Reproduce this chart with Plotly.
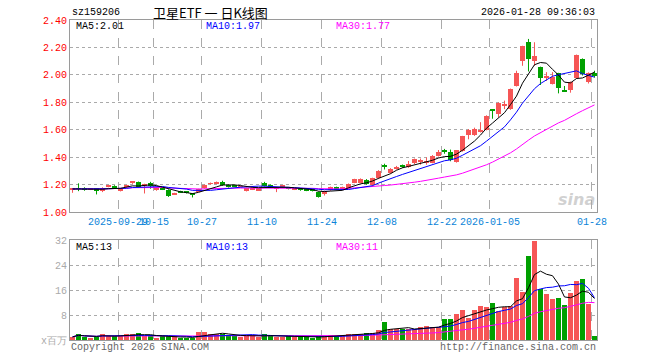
import pandas as pd
import plotly.graph_objects as go

# ---------------- data ----------------
dates = ["09-17","09-18","09-19","09-22","09-23","09-24","09-25","09-26","09-29","09-30",
         "10-09","10-10","10-13","10-14","10-15","10-16","10-17","10-20","10-21","10-22",
         "10-23","10-24","10-27","10-28","10-29","10-30","10-31","11-03","11-04","11-05",
         "11-06","11-07","11-10","11-11","11-12","11-13","11-14","11-17","11-18","11-19",
         "11-20","11-21","11-24","11-25","11-26","11-27","11-28","12-01","12-02","12-03",
         "12-04","12-05","12-08","12-09","12-10","12-11","12-12","12-15","12-16","12-17",
         "12-18","12-19","12-22","12-23","12-24","12-25","12-26","12-29","12-30","12-31",
         "01-05","01-06","01-07","01-08","01-09","01-12","01-13","01-14","01-15","01-16",
         "01-19","01-20","01-21","01-22","01-23","01-26","01-27","01-28"]

open_ = [1.162,1.172,1.170,1.165,1.172,1.152,1.185,1.190,1.158,1.180,
         1.212,1.220,1.186,1.215,1.162,1.170,1.160,1.130,1.150,1.145,
         1.133,1.147,1.172,1.205,1.210,1.222,1.198,1.190,1.183,1.156,
         1.165,1.160,1.212,1.196,1.168,1.185,1.175,1.163,1.166,1.165,
         1.162,1.148,1.130,1.160,1.180,1.165,1.172,1.213,1.215,1.232,
         1.196,1.245,1.335,1.288,1.312,1.342,1.326,1.356,1.368,1.362,
         1.360,1.410,1.455,1.435,1.368,1.442,1.560,1.565,1.589,1.597,
         1.745,1.716,1.777,1.750,1.920,2.103,2.238,2.100,2.054,1.980,
         1.937,2.010,1.885,1.887,1.975,2.115,1.950,2.010]
high = [1.172,1.209,1.180,1.175,1.175,1.180,1.195,1.195,1.175,1.198,
        1.225,1.222,1.206,1.220,1.180,1.175,1.165,1.140,1.155,1.150,
        1.138,1.170,1.200,1.215,1.222,1.228,1.200,1.195,1.190,1.178,
        1.180,1.175,1.220,1.200,1.178,1.195,1.180,1.172,1.170,1.168,
        1.168,1.150,1.155,1.185,1.185,1.185,1.208,1.242,1.245,1.240,
        1.250,1.305,1.352,1.320,1.336,1.346,1.372,1.390,1.390,1.398,
        1.415,1.452,1.460,1.455,1.452,1.555,1.605,1.615,1.655,1.705,
        1.750,1.800,1.812,1.900,2.030,2.212,2.262,2.238,2.060,2.020,
        2.020,2.015,1.919,1.952,2.148,2.120,2.018,2.030]
low = [1.140,1.152,1.155,1.160,1.128,1.145,1.180,1.175,1.150,1.175,
       1.205,1.180,1.135,1.170,1.155,1.160,1.110,1.130,1.140,1.135,
       1.106,1.145,1.170,1.200,1.205,1.190,1.178,1.180,1.180,1.150,
       1.160,1.155,1.185,1.175,1.145,1.180,1.165,1.160,1.155,1.152,
       1.150,1.105,1.120,1.155,1.160,1.160,1.170,1.210,1.210,1.200,
       1.190,1.240,1.310,1.280,1.310,1.322,1.322,1.350,1.345,1.345,
       1.355,1.405,1.425,1.370,1.360,1.440,1.530,1.555,1.580,1.595,
       1.680,1.690,1.750,1.745,1.915,2.066,2.025,2.066,1.926,1.956,
       1.930,1.865,1.875,1.870,1.970,1.995,1.937,1.980]
close = [1.168,1.168,1.165,1.170,1.150,1.176,1.190,1.182,1.165,1.196,
         1.220,1.185,1.204,1.186,1.168,1.165,1.120,1.137,1.145,1.140,
         1.128,1.167,1.196,1.210,1.215,1.196,1.182,1.185,1.186,1.175,
         1.170,1.172,1.190,1.180,1.172,1.190,1.170,1.167,1.162,1.160,
         1.158,1.112,1.152,1.180,1.166,1.180,1.204,1.238,1.238,1.205,
         1.245,1.300,1.330,1.316,1.331,1.334,1.351,1.385,1.372,1.368,
         1.410,1.434,1.435,1.382,1.449,1.551,1.596,1.608,1.600,1.700,
         1.738,1.797,1.785,1.895,2.010,2.209,2.115,2.140,1.976,1.986,
         1.985,1.907,1.880,1.949,2.145,2.005,2.010,1.990]
volume = [1.0,2.0,1.0,0.8,1.0,2.0,1.2,1.2,1.2,2.0,
          2.0,2.1,1.2,1.2,0.6,1.2,1.2,1.2,0.6,0.6,
          0.6,2.7,2.7,1.8,1.8,1.8,1.6,1.2,1.0,1.4,
          1.3,1.1,1.8,1.3,1.0,1.1,1.2,0.9,1.0,0.9,
          0.8,1.3,1.2,1.6,1.3,1.6,2.0,2.0,1.8,2.3,
          2.3,3.2,5.8,3.5,3.5,3.5,3.5,3.5,4.2,4.5,
          4.2,4.2,6.8,6.8,8.4,9.7,7.2,9.7,10.9,10.5,
          11.8,9.4,10.6,10.9,19.8,15.4,26.9,31.7,16.4,14.8,
          13.1,13.4,11.2,15.1,19.0,19.5,11.5,1.3]

tick_dates = ["09-29","10-15","10-27","11-10","11-24","12-08","12-22","01-05","01-28"]
tick_labels = ["2025-09-29","10-15","10-27","11-10","11-24","12-08","12-22","2026-01-05","01-28"]
price_ticks = [1.00,1.20,1.40,1.60,1.80,2.00,2.20,2.40]
vol_ticks = [0,8,16,24,32]
vol_tick_text = ["x百万","8","16","24","32"]

# ---------------- styling ----------------
RED = "#f65656"
GREEN = "#00a000"
GRID = "#aaaaaa"
BORDER = "#9a9a9a"
MONO = "Liberation Mono, DejaVu Sans Mono, monospace"
CJK = "Noto Sans CJK SC, sans-serif"

n = len(close)
idx = list(range(n))
up = [c >= o for o, c in zip(open_, close)]
colors = [RED if u else GREEN for u in up]
body_base = [min(o, c) for o, c in zip(open_, close)]
body_h = [max(abs(c - o), 0.006) for o, c in zip(open_, close)]

cs = pd.Series(close)
ma5 = cs.rolling(5, min_periods=1).mean()
ma10 = cs.rolling(10, min_periods=1).mean()
ma30 = cs.rolling(30, min_periods=1).mean()
vs = pd.Series(volume)
vma5 = vs.rolling(5, min_periods=1).mean()
vma10 = vs.rolling(10, min_periods=1).mean()
vma30 = vs.rolling(30, min_periods=1).mean()

fig = go.Figure()

# wicks
for col, flag in ((RED, True), (GREEN, False)):
    wx, wy = [], []
    for i in idx:
        if up[i] == flag:
            wx += [i, i, None]
            wy += [low[i], high[i], None]
    fig.add_trace(go.Scatter(x=wx, y=wy, mode="lines", line=dict(color=col, width=1),
                             hoverinfo="skip", showlegend=False, xaxis="x", yaxis="y"))

# bodies
fig.add_trace(go.Bar(x=idx, y=body_h, base=body_base, width=0.83,
                     marker=dict(color=colors, line=dict(width=0)),
                     showlegend=False, xaxis="x", yaxis="y"))

# price MAs
for s, col in ((ma30, "#ff00ff"), (ma10, "#0000ff"), (ma5, "#000000")):
    fig.add_trace(go.Scatter(x=idx, y=s, mode="lines", line=dict(color=col, width=1),
                             showlegend=False, xaxis="x", yaxis="y"))

# volume
fig.add_trace(go.Bar(x=idx, y=volume, width=0.83,
                     marker=dict(color=colors, line=dict(width=0)),
                     showlegend=False, xaxis="x2", yaxis="y2"))
for s, col in ((vma30, "#ff00ff"), (vma10, "#0000ff"), (vma5, "#000000")):
    fig.add_trace(go.Scatter(x=idx, y=s, mode="lines", line=dict(color=col, width=1),
                             showlegend=False, xaxis="x2", yaxis="y2"))

tickpos = [dates.index(d) - 0.42 for d in tick_dates]
xr = [-0.42, n - 1 + 0.42]

common_x = dict(range=xr, showgrid=True, gridcolor=GRID, griddash="dash", gridwidth=1,
                showline=True, mirror=True, linecolor=BORDER, linewidth=1,
                tickvals=tickpos, ticks="", zeroline=False, fixedrange=True)

fig.update_layout(
    width=660, height=360,
    margin=dict(l=70, r=63, t=20, b=20),
    paper_bgcolor="white", plot_bgcolor="white",
    barmode="overlay", bargap=0,
    xaxis=dict(common_x, domain=[0, 1], anchor="y", ticktext=tick_labels, tickangle=0,
               tickfont=dict(family=MONO, size=10, color="#0b84d8")),
    yaxis=dict(domain=[0.4, 1], range=[1.0, 2.4], tickvals=price_ticks, tickformat=".2f",
               tickfont=dict(family=MONO, size=10, color="#ff0000"),
               showgrid=True, gridcolor=GRID, griddash="dot", zeroline=False,
               showline=True, mirror=True, linecolor=BORDER, ticks=""),
    xaxis2=dict(common_x, domain=[0, 1], anchor="y2", showticklabels=False),
    yaxis2=dict(domain=[0, 0.3125], range=[0, 32], tickvals=vol_ticks, ticktext=vol_tick_text,
                tickfont=dict(family=MONO, size=10, color="#aaaaaa"),
                showgrid=True, gridcolor=GRID, griddash="dot", zeroline=False,
                showline=True, mirror=True, linecolor=BORDER, ticks=""),
    showlegend=False,
)

# pixel -> paper helpers
def px(x):
    return (x - 70) / 527.0

def py(y):
    return (340 - y) / 320.0

def note(text, x, y, color="#000", xanchor="left", size=10, family=MONO, **kw):
    fig.add_annotation(text=text, x=px(x), y=py(y), xref="paper", yref="paper",
                       xanchor=xanchor, yanchor="middle", showarrow=False,
                       font=dict(family=family, size=size, color=color), **kw)

note("sz159206", 70, 13)
note("卫星ETF 一 日K线图", 210, 12, xanchor="center", size=13, family=CJK)
note("2026-01-28 09:36:03", 597, 13, xanchor="right")
note("MA5:2.01", 74, 26)
note("MA10:1.97", 204, 26, color="#0000ff")
note("MA30:1.77", 334, 26, color="#ff00ff")
note("MA5:13", 74, 247)
note("MA10:13", 204, 247, color="#0000ff")
note("MA30:11", 334, 247, color="#ff00ff")
note("Copyright 2026 SINA.COM", 69, 347, color="#666666")
note("http://finance.sina.com.cn", 598, 347, color="#666666", xanchor="right")
fig.add_annotation(text="<b><i>sina</i></b>", x=px(576), y=py(199), xref="paper", yref="paper",
                   xanchor="center", yanchor="middle", showarrow=False,
                   font=dict(family="DejaVu Sans", size=16, color="rgba(170,170,170,0.55)"))

fig.write_html("out.html")
